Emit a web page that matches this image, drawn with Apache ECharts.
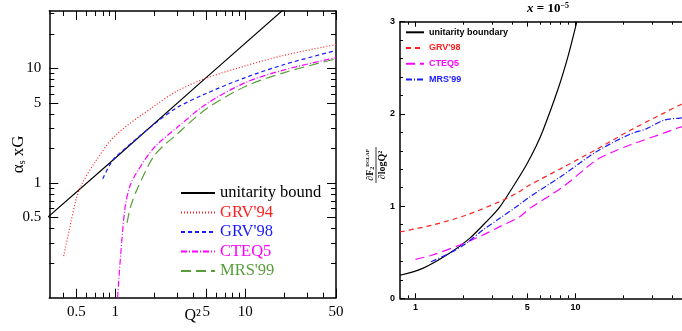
<!DOCTYPE html>
<html>
<head>
<meta charset="utf-8">
<script src="https://cdn.jsdelivr.net/npm/echarts@6/dist/echarts.min.js"></script>
<style>
  html, body { margin: 0; padding: 0; background: #fff; }
  #chart { width: 682px; height: 331px; }
</style>
</head>
<body>
<div id="chart"></div>
<script>
// ---- left panel: alpha_s xG vs Q^2 (log-log) ----
const leftUnitarity = [[0.3, 0.5], [1, 1.65], [5, 8.3], [20, 33]];
const leftGRV94 = [[0.4, 0.23], [0.45, 0.43], [0.5, 0.73], [0.55, 0.97], [0.7, 1.53], [1, 2.6], [2, 4.7], [3, 6.35], [5, 8.2], [10, 10.5], [20, 13], [50, 16.1]];
const leftGRV98 = [[0.8, 1.09], [0.9, 1.42], [1, 1.68], [2, 3.27], [3, 4.56], [5, 6.03], [10, 8.3], [20, 10.8], [50, 14.3]];
const leftCTEQ5 = [[1.04, 0.1], [1.1, 0.24], [1.19, 0.62], [1.3, 0.95], [1.47, 1.25], [2, 2.05], [3, 3.06], [5, 4.87], [10, 7.5], [20, 9.7], [50, 12.4]];
const leftMRS99 = [[1.23, 0.45], [1.32, 0.64], [1.47, 0.88], [2, 1.74], [3, 2.68], [5, 4.41], [10, 6.94], [20, 9.18], [50, 12.1]];

const leftXMajor = [0.5, 1, 5, 10, 50];
const leftXMinor = [0.4, 0.6, 0.7, 0.8, 0.9, 2, 3, 4, 6, 7, 8, 9, 20, 30, 40];
const leftYMajor = [0.5, 1, 5, 10];
const leftYMinor = [0.2, 0.3, 0.4, 0.6, 0.7, 0.8, 0.9, 2, 3, 4, 6, 7, 8, 9, 20, 30];

// ---- right panel: dF2/dlogQ^2 at x = 1e-5 ----
const rightUnitarity = [[0.8, 0.25], [1.11, 0.325], [1.63, 0.488], [2.18, 0.65], [2.77, 0.83], [3.36, 0.99], [4.07, 1.21], [4.93, 1.446], [5.7, 1.657], [6.27, 1.822], [7.78, 2.27], [9.0, 2.63], [10.2, 3.0]];
const rightGRV98 = [[0.8, 0.72], [1.28, 0.795], [2.08, 0.903], [3.36, 1.048], [4.27, 1.139], [5.18, 1.229], [8.37, 1.42], [13.5, 1.615], [21.9, 1.82], [35.4, 2.006], [45, 2.097], [50, 2.12]];
const rightCTEQ5 = [[1.0, 0.423], [1.28, 0.47], [1.89, 0.578], [2.64, 0.687], [3.36, 0.777], [4.48, 0.885], [5.18, 0.976], [8.37, 1.21], [13.5, 1.5], [17.2, 1.59], [21.9, 1.663], [35.4, 1.79], [45, 1.855], [50, 1.87]];
const rightMRS99 = [[1.25, 0.397], [1.63, 0.488], [2.08, 0.597], [2.64, 0.741], [3.36, 0.868], [4.27, 0.993], [5.18, 1.1], [8.37, 1.337], [13.5, 1.59], [21.9, 1.78], [27.9, 1.84], [35.4, 1.93], [45, 1.955], [50, 1.96]];

const rightXMajor = [1, 5, 10];
const rightXMinor = [0.9, 2, 3, 4, 6, 7, 8, 9, 20, 30, 40];

const SERIF = '"Liberation Serif", "DejaVu Serif", serif';
const SANS = '"Liberation Sans", Arial, sans-serif';

const fmt = v => String(+Number(v).toPrecision(3));

function tickAxis(o) {
  return {
    type: 'log',
    logBase: 10,
    gridIndex: o.grid,
    position: o.pos,
    min: o.min,
    max: o.max,
    name: o.name,
    nameLocation: 'middle',
    nameGap: o.nameGap,
    nameRotate: o.nameRotate,
    nameMoveOverlap: false,
    nameTextStyle: o.nameStyle,
    axisLine: { show: o.line, onZero: false, lineStyle: { color: '#000', width: 1.5 } },
    axisTick: { show: true, inside: true, length: o.len, customValues: o.ticks, lineStyle: { color: '#000', width: 1 } },
    axisLabel: o.label
      ? Object.assign({ show: true, customValues: o.ticks, formatter: fmt, color: '#000' }, o.label)
      : { show: false },
    splitLine: { show: false }
  };
}

const leftLabel = { fontFamily: SERIF, fontSize: 15, margin: 7 };
const rightLabel = { fontFamily: SANS, fontSize: 9, fontWeight: 'bold', margin: 5 };

const xAxes = [
  tickAxis({ grid: 0, pos: 'bottom', min: 0.31, max: 50, ticks: leftXMajor, len: 9, line: true, label: leftLabel,
    name: 'Q²', nameGap: 10, nameStyle: { fontFamily: SERIF, fontSize: 16, color: '#000', verticalAlign: 'top' } }),
  tickAxis({ grid: 0, pos: 'bottom', min: 0.31, max: 50, ticks: leftXMinor, len: 5, line: false }),
  tickAxis({ grid: 0, pos: 'top', min: 0.31, max: 50, ticks: leftXMajor, len: 9, line: true }),
  tickAxis({ grid: 0, pos: 'top', min: 0.31, max: 50, ticks: leftXMinor, len: 5, line: false }),
  tickAxis({ grid: 1, pos: 'bottom', min: 0.8, max: 50, ticks: rightXMajor, len: 5, line: true, label: rightLabel }),
  tickAxis({ grid: 1, pos: 'bottom', min: 0.8, max: 50, ticks: rightXMinor, len: 3, line: false }),
  tickAxis({ grid: 1, pos: 'top', min: 0.8, max: 50, ticks: rightXMajor, len: 5, line: true }),
  tickAxis({ grid: 1, pos: 'top', min: 0.8, max: 50, ticks: rightXMinor, len: 3, line: false })
];

const yAxes = [
  tickAxis({ grid: 0, pos: 'left', min: 0.1, max: 31.6, ticks: leftYMajor, len: 9, line: true, label: Object.assign({}, leftLabel, { margin: 8 }),
    name: '{a|α}{s|s}{a| xG}', nameGap: 22, nameRotate: 90,
    nameStyle: { rich: { a: { fontFamily: SERIF, fontSize: 17, color: '#000' }, s: { fontFamily: SERIF, fontSize: 10, color: '#000', verticalAlign: 'bottom', padding: [8, 0, 0, 0] } } } }),
  tickAxis({ grid: 0, pos: 'left', min: 0.1, max: 31.6, ticks: leftYMinor, len: 5, line: false }),
  tickAxis({ grid: 0, pos: 'right', min: 0.1, max: 31.6, ticks: leftYMajor, len: 9, line: true }),
  tickAxis({ grid: 0, pos: 'right', min: 0.1, max: 31.6, ticks: leftYMinor, len: 5, line: false }),
  {
    type: 'value',
    gridIndex: 1,
    position: 'left',
    min: 0,
    max: 3,
    interval: 1,
    axisLine: { show: true, onZero: false, lineStyle: { color: '#000', width: 1.5 } },
    axisTick: { show: true, inside: true, length: 5, lineStyle: { color: '#000', width: 1 } },
    minorTick: { show: true, splitNumber: 5, length: 3, lineStyle: { color: '#000', width: 1 } },
    axisLabel: Object.assign({ color: '#000' }, rightLabel),
    splitLine: { show: false }
  }
];

function curve(name, data, xi, yi, color, type, smooth) {
  return {
    name: name,
    type: 'line',
    xAxisIndex: xi,
    yAxisIndex: yi,
    data: data,
    symbol: 'none',
    smooth: smooth,
    lineStyle: { color: color, width: 1.2, type: type },
    itemStyle: { color: color },
    z: 3
  };
}

const RED = '#ff2020', BLUE = '#1a1aff', MAG = '#ff00ff', GREEN = '#5a9e3c';

const chart = echarts.init(document.getElementById('chart'));

chart.setOption({
  animation: false,
  title: {
    text: '{i|x} = 10{s|−5}',
    left: 543,
    top: -3,
    textAlign: 'center',
    textStyle: {
      rich: {
        i: { fontFamily: SERIF, fontStyle: 'italic', fontSize: 13, fontWeight: 'bold', color: '#000' },
        s: { fontFamily: SERIF, fontSize: 8, fontWeight: 'bold', color: '#000', verticalAlign: 'top', padding: [0, 0, 6, 0] }
      },
      fontFamily: SERIF,
      fontSize: 13,
      fontWeight: 'bold',
      color: '#000'
    }
  },
  grid: [
    { left: 49.3, top: 11, width: 286.7, height: 286.7, outerBoundsMode: 'none' },
    { left: 400, top: 21.7, width: 287.3, height: 276.6, outerBoundsMode: 'none' }
  ],
  xAxis: xAxes,
  yAxis: yAxes,
  legend: [
    {
      orient: 'vertical',
      left: 180,
      top: 184.5,
      padding: 0,
      itemWidth: 34,
      itemHeight: 10,
      itemGap: 2.5,
      selectedMode: false,
      itemStyle: { opacity: 0 },
      textStyle: { fontFamily: SERIF, fontSize: 16.5 },
      data: [
        { name: 'unitarity bound', textStyle: { color: '#000' } },
        { name: "GRV'94", textStyle: { color: RED } },
        { name: "GRV'98", textStyle: { color: BLUE } },
        { name: 'CTEQ5', textStyle: { color: MAG } },
        { name: "MRS'99", textStyle: { color: GREEN } }
      ]
    },
    {
      orient: 'vertical',
      left: 405,
      top: 27.8,
      padding: 0,
      itemWidth: 18,
      itemHeight: 8,
      itemGap: 6.7,
      selectedMode: false,
      itemStyle: { opacity: 0 },
      textStyle: { fontFamily: SANS, fontSize: 9, fontWeight: 'bold' },
      data: [
        { name: 'unitarity boundary', textStyle: { color: '#000' } },
        { name: "GRV'98 ", textStyle: { color: RED } },
        { name: 'CTEQ5 ', textStyle: { color: MAG } },
        { name: "MRS'99 ", textStyle: { color: BLUE } }
      ]
    }
  ],
  graphic: [
    {
      type: 'group',
      x: 376,
      y: 165,
      rotation: Math.PI / 2,
      children: [
        {
          type: 'text',
          x: 0, y: -1,
          style: {
            text: '{a|∂F}{s|2}{p|DGLAP}',
            align: 'center',
            verticalAlign: 'bottom',
            rich: {
              a: { fontFamily: SERIF, fontSize: 10, fontWeight: 'bold', fill: '#000' },
              s: { fontFamily: SERIF, fontSize: 6, fontWeight: 'bold', fill: '#000', verticalAlign: 'bottom' },
              p: { fontFamily: SERIF, fontSize: 5, fontWeight: 'bold', fill: '#000', verticalAlign: 'top' }
            }
          }
        },
        { type: 'line', shape: { x1: -18, y1: 0, x2: 18, y2: 0 }, style: { stroke: '#000', lineWidth: 0.8 } },
        {
          type: 'text',
          x: 0, y: 1,
          style: {
            text: '∂logQ²',
            align: 'center',
            verticalAlign: 'top',
            font: 'bold 10px "Liberation Serif", serif',
            fill: '#000'
          }
        }
      ]
    }
  ],
  series: [
    curve('unitarity bound', leftUnitarity, 0, 0, '#000', 'solid', false),
    curve("GRV'94", leftGRV94, 0, 0, RED, [1, 2], 0.3),
    curve("GRV'98", leftGRV98, 0, 0, BLUE, [4, 3], 0.3),
    curve('CTEQ5', leftCTEQ5, 0, 0, MAG, [6, 2, 1, 2], 0.3),
    curve("MRS'99", leftMRS99, 0, 0, GREEN, [10, 5], 0.3),
    curve('unitarity boundary', rightUnitarity, 4, 4, '#000', 'solid', 0.3),
    curve("GRV'98 ", rightGRV98, 4, 4, RED, [5, 4], 0.3),
    curve('CTEQ5 ', rightCTEQ5, 4, 4, MAG, [9, 5], 0.3),
    curve("MRS'99 ", rightMRS99, 4, 4, BLUE, [6, 2, 1, 2], 0.3)
  ]
});
</script>
</body>
</html>
